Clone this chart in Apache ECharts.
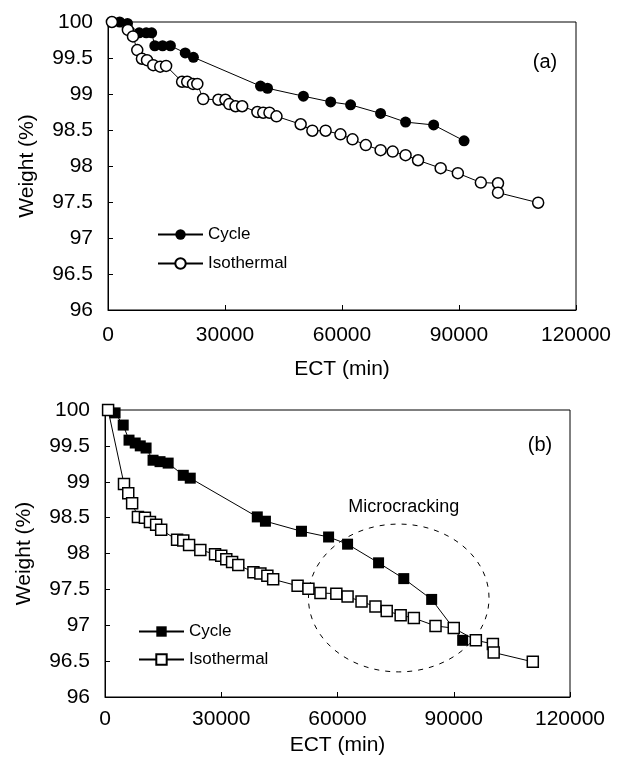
<!DOCTYPE html>
<html>
<head>
<meta charset="utf-8">
<script src="https://cdn.jsdelivr.net/npm/echarts@6/dist/echarts.min.js"></script>
<style>
  html, body { margin: 0; padding: 0; background: #fff; }
  #chart { width: 625px; height: 771px; }
</style>
</head>
<body>
<div id="chart"></div>
<script>
// ---- (a) circles ----
const cycleAX = [3000, 5000, 8000, 9800, 11200, 12000, 14000, 16000, 19800, 21900, 39100, 40900, 50100, 57100, 62200, 69900, 76300, 83500, 91300]
const cycleAY = [100, 99.98, 99.85, 99.85, 99.85, 99.67, 99.67, 99.67, 99.57, 99.51, 99.11, 99.08, 98.97, 98.89, 98.85, 98.73, 98.61, 98.57, 98.35]
const isoAX = [1000, 5100, 6400, 7500, 8700, 10000, 11600, 13400, 14900, 19000, 20300, 21800, 22900, 24400, 28300, 30100, 31100, 32700, 34400, 38300, 39800, 41400, 43200, 49400, 52400, 55800, 59600, 62700, 66100, 69900, 73000, 76300, 79500, 85300, 89700, 95600, 100000, 100000, 110300]
const isoAY = [100, 99.89, 99.8, 99.61, 99.49, 99.47, 99.4, 99.38, 99.39, 99.17, 99.17, 99.14, 99.14, 98.93, 98.92, 98.92, 98.86, 98.83, 98.83, 98.75, 98.74, 98.74, 98.69, 98.58, 98.49, 98.49, 98.44, 98.37, 98.29, 98.22, 98.2, 98.15, 98.08, 97.97, 97.9, 97.77, 97.76, 97.63, 97.49]

// ---- (b) squares ----
const cycleBX = [2600, 4700, 6200, 7800, 9100, 10600, 12400, 14200, 16300, 20200, 22000, 39300, 41400, 50700, 57700, 62600, 70600, 77100, 84300, 92300]
const cycleBY = [99.96, 99.79, 99.58, 99.54, 99.5, 99.47, 99.3, 99.28, 99.26, 99.09, 99.05, 98.51, 98.45, 98.31, 98.23, 98.13, 97.87, 97.65, 97.36, 96.79]
const isoBX = [800, 4900, 6000, 7000, 8500, 10300, 11600, 13200, 14500, 18600, 20200, 21700, 24600, 28400, 30000, 31300, 32800, 34400, 38300, 40100, 41900, 43400, 49700, 52500, 55600, 59700, 62600, 66200, 69800, 72700, 76300, 79700, 85300, 90000, 95700, 100100, 100300, 110400]
const isoBY = [100, 98.97, 98.84, 98.7, 98.51, 98.5, 98.44, 98.4, 98.33, 98.19, 98.18, 98.12, 98.05, 97.99, 97.97, 97.92, 97.88, 97.84, 97.74, 97.72, 97.69, 97.64, 97.55, 97.51, 97.45, 97.44, 97.4, 97.33, 97.26, 97.2, 97.14, 97.1, 96.99, 96.96, 96.79, 96.74, 96.62, 96.49]

// axis ranges
const xMin = 0, xMax = 120000, xStep = 30000
const yMin = 96, yMax = 100, yStep = 0.5

// microcracking ellipse, in data units of plot (b)
const crackCenter = [75800, 97.38]
const crackRadius = [23300, 1.03]
const crackLabelPos = [77100, 98.65]

const FONT = "'Liberation Sans', Arial, sans-serif"
const zip = (xs, ys) => xs.map((x, i) => [x, ys[i]])

function xAxis(gridIndex, margin, nameGap) {
  return {
    type: 'value', gridIndex, min: xMin, max: xMax, interval: xStep,
    name: 'ECT (min)', nameLocation: 'middle', nameGap,
    nameTextStyle: { color: '#000', fontSize: 21, fontFamily: FONT },
    axisLine: { show: true, lineStyle: { color: '#000', width: 1 } },
    axisTick: { show: true, inside: true, length: 5, lineStyle: { color: '#000' } },
    axisLabel: { color: '#000', fontSize: 21, fontFamily: FONT, margin, formatter: v => String(v) },
    splitLine: { show: false }
  }
}

function yAxis(gridIndex) {
  return {
    type: 'value', gridIndex, min: yMin, max: yMax, interval: yStep,
    name: 'Weight (%)', nameLocation: 'middle', nameGap: 70, nameRotate: 90,
    nameTextStyle: { color: '#000', fontSize: 21, fontFamily: FONT },
    axisLine: { show: true, lineStyle: { color: '#000', width: 1 } },
    axisTick: { show: true, inside: true, length: 5, lineStyle: { color: '#000' } },
    axisLabel: { color: '#000', fontSize: 21, fontFamily: FONT, margin: 15 },
    splitLine: { show: false }
  }
}

function series(name, data, idx, symbol, filled) {
  return {
    name, type: 'line', data, xAxisIndex: idx, yAxisIndex: idx,
    symbol, symbolSize: 11, showAllSymbol: true, clip: false, animation: false,
    lineStyle: { color: '#000', width: 1 },
    itemStyle: { color: filled ? '#000' : '#fff', borderColor: '#000', borderWidth: filled ? 0 : 1.5 },
    emphasis: { disabled: true }
  }
}

function legend(names, left, top, gap) {
  return {
    data: names, orient: 'vertical', left, top, selectedMode: false,
    itemWidth: 45, itemHeight: 13, itemGap: gap,
    formatter: n => n.replace(' (b)', ''),
    textStyle: { color: '#000', fontSize: 17, fontFamily: FONT }
  }
}

const chart = echarts.init(document.getElementById('chart'), null, { renderer: 'canvas' })
chart.setOption({
  backgroundColor: '#fff',
  animation: false,
  grid: [
    { left: 108, top: 22, width: 468, height: 288, show: true, borderColor: '#000', borderWidth: 1 },
    { left: 105, top: 410, width: 465, height: 287, show: true, borderColor: '#000', borderWidth: 1 }
  ],
  xAxis: [xAxis(0, 15, 49), xAxis(1, 12, 38)],
  yAxis: [yAxis(0), yAxis(1)],
  legend: [
    legend(['Cycle', 'Isothermal'], 152, 221, 12),
    legend(['Cycle (b)', 'Isothermal (b)'], 133, 618, 11)
  ],
  series: [
    series('Cycle', zip(cycleAX, cycleAY), 0, 'circle', true),
    series('Isothermal', zip(isoAX, isoAY), 0, 'circle', false),
    series('Cycle (b)', zip(cycleBX, cycleBY), 1, 'rect', true),
    series('Isothermal (b)', zip(isoBX, isoBY), 1, 'rect', false)
  ]
})

// annotations placed from data coords
const c = chart.convertToPixel({ gridIndex: 1 }, crackCenter)
const e = chart.convertToPixel({ gridIndex: 1 }, [crackCenter[0] + crackRadius[0], crackCenter[1] - crackRadius[1]])
const t = chart.convertToPixel({ gridIndex: 1 }, crackLabelPos)
chart.setOption({
  graphic: [
    { type: 'ellipse', shape: { cx: c[0], cy: c[1], rx: e[0] - c[0], ry: e[1] - c[1] },
      style: { fill: 'none', stroke: '#000', lineWidth: 1, lineDash: [5, 6] }, silent: true },
    { type: 'text', x: t[0], y: t[1], style: { text: 'Microcracking', fill: '#000', font: '18px ' + FONT, textAlign: 'center', textVerticalAlign: 'middle' } },
    { type: 'text', x: 545, y: 62, style: { text: '(a)', fill: '#000', font: '20px ' + FONT, textAlign: 'center', textVerticalAlign: 'middle' } },
    { type: 'text', x: 540, y: 445, style: { text: '(b)', fill: '#000', font: '20px ' + FONT, textAlign: 'center', textVerticalAlign: 'middle' } }
  ]
})
</script>
</body>
</html>
